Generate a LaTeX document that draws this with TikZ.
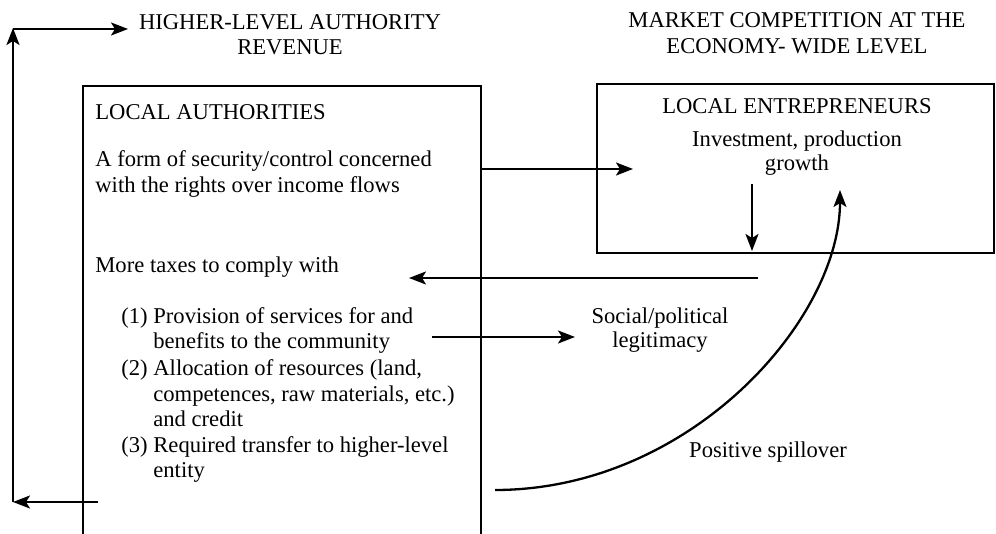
\documentclass[tikz,border=0pt]{standalone}
\usepackage{fontspec}
\setmainfont{Liberation Serif}
\usetikzlibrary{arrows.meta}
\begin{document}
\begin{tikzpicture}[x=0.5pt,y=-0.5pt,
  txt/.style={inner sep=0pt, font=\fontsize{11.3}{12.9}\selectfont},
  lw/.style={anchor=base west, txt},
  ctr/.style={anchor=base, txt},
  frame/.style={line width=1.45pt},
  arr/.style={line width=1.15pt, -{Stealth[length=8.5pt,width=6.5pt,inset=2pt]}},
]
\useasboundingbox (0,0) rectangle (996,534);
% headings
\node[ctr] (hl1) at (290,30) {HIGHER-LEVEL AUTHORITY};
\node[ctr] (hl2) at (290,55) {REVENUE};
\node[ctr] (mc1) at (797,28) {MARKET COMPETITION AT THE};
\node[ctr] (mc2) at (797,54) {ECONOMY- WIDE LEVEL};
% local authorities frame (open at bottom)
\draw[frame] (83,534) -- (83,86) -- (481,86) -- (481,534);
% local entrepreneurs box
\draw[frame] (597,84) rectangle (994,253);
% left box texts
\node[lw] (la) at (95,120) {LOCAL AUTHORITIES};
\node[lw] (sec1) at (95,167) {A form of security/control concerned};
\node[lw] (sec2) at (95,193) {with the rights over income flows};
\node[lw] (tax) at (95,273) {More taxes to comply with};
\node[lw] (n1) at (121,323) {(1)};
\node[lw] (i1a) at (153,323) {Provision of services for and};
\node[lw] (i1b) at (153,349) {benefits to the community};
\node[lw] (n2) at (121,375) {(2)};
\node[lw] (i2a) at (153,375) {Allocation of resources (land,};
\node[lw] (i2b) at (153,401) {competences, raw materials, etc.)};
\node[lw] (i2c) at (153,426) {and credit};
\node[lw] (n3) at (121,452) {(3)};
\node[lw] (i3a) at (153,452) {Required transfer to higher-level};
\node[lw] (i3b) at (153,477) {entity};
% right texts
\node[ctr] (le1) at (797,114) {LOCAL ENTREPRENEURS};
\node[ctr] (inv1) at (797,147) {Investment, production};
\node[ctr] (inv2) at (797,171) {growth};
\node[ctr] (spl1) at (660,323) {Social/political};
\node[ctr] (spl2) at (660,348) {legitimacy};
\node[ctr] (pos) at (768,457) {Positive spillover};
% connector end points
\coordinate (b0) at (98,502);
\coordinate (b1) at (13,502);
\coordinate (b2) at (13,28);
\coordinate (b3) at (13,29);
\coordinate (b4) at (128,29);
\coordinate (r0) at (481,169);
\coordinate (r1) at (633,169);
\coordinate (d0) at (752,184);
\coordinate (d1) at (752,251);
\coordinate (t0) at (758,278);
\coordinate (t1) at (409,278);
\coordinate (s0) at (432,337);
\coordinate (s1) at (575,337);
\coordinate (p0) at (495,490);
\coordinate (p1) at (840,190);
% connectors
\draw[arr] (b0) -- (b1);
\draw[arr] (b1) -- (b2);
\draw[arr] (b3) -- (b4);
\draw[arr] (r0) -- (r1);
\draw[arr] (d0) -- (d1);
\draw[arr] (t0) -- (t1);
\draw[arr] (s0) -- (s1);
\draw[arr] (p0) .. controls (690,490) and (840,320) .. (p1);
\end{tikzpicture}
\end{document}
